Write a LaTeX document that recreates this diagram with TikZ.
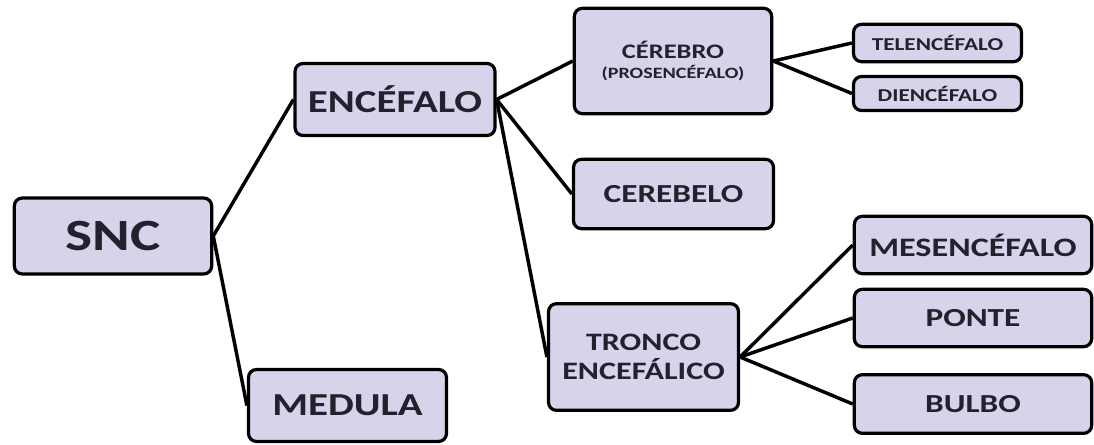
\documentclass[tikz,border=0pt]{standalone}
\usepackage{fontspec}
\newfontfamily\boxfont{Carlito}[FakeStretch=1.28]
\usepackage{tikz}
\definecolor{boxfill}{RGB}{214,212,235}
\definecolor{boxtext}{RGB}{34,34,46}
\tikzstyle{line} = [line width=2.6pt, black]
\newcommand\boxsize[2]{\boxfont\bfseries\fontsize{#1}{#2}\selectfont}

\begin{document}
\begin{tikzpicture}[x=0.75pt, y=-0.75pt, every node/.style={draw=black, line width=2.4pt, rounded corners=6pt, fill=boxfill, text=boxtext, inner sep=0pt, align=center}]
        \useasboundingbox (0,0) rectangle (1094,444);

        \node[minimum width=148pt, minimum height=57pt, font=\boxsize{33.5}{38}] (SNC) at (113,236) {SNC};
        \node[minimum width=150pt, minimum height=54pt, font=\boxsize{24}{27}] (ENC) at (395,99.5) {ENCÉFALO};
        \node[minimum width=148.5pt, minimum height=54pt, font=\boxsize{24}{27}] (MED) at (347.5,405.5) {MEDULA};
        \node[minimum width=148pt, minimum height=79pt, font=\boxsize{15.5}{15}] (CER) at (673,61) {CÉREBRO\\{\fontsize{11.8}{13}\selectfont(PROSENCÉFALO)}};
        \node[minimum width=126pt, minimum height=28pt, font=\boxsize{13.6}{15}] (TEL) at (937.5,43) {TELENCÉFALO};
        \node[minimum width=126pt, minimum height=25.5pt, font=\boxsize{13.6}{15}] (DIE) at (937.5,93.5) {DIENCÉFALO};
        \node[minimum width=150pt, minimum height=52pt, font=\boxsize{19.5}{22}] (CBL) at (673.5,194) {CEREBELO};
        \node[minimum width=142.5pt, minimum height=80pt, font=\boxsize{18.8}{22}] (TRO) at (643.5,357) {TRONCO\\ENCEFÁLICO};
        \node[minimum width=178pt, minimum height=43pt, font=\boxsize{20}{22}] (MES) at (973,245) {MESENCÉFALO};
        \node[minimum width=178pt, minimum height=43pt, font=\boxsize{19.5}{22}] (PON) at (973,318) {PONTE};
        \node[minimum width=178pt, minimum height=44pt, font=\boxsize{19.5}{22}] (BUL) at (973,404) {BULBO};

        % Edges - black
        \draw[line] (SNC.east) -- (ENC.west);
        \draw[line] (SNC.east) -- (MED.west);
        \draw[line] (ENC.east) -- (CER.west);
        \draw[line] (ENC.east) -- (CBL.west);
        \draw[line] (ENC.east) -- (TRO.west);
        \draw[line] (CER.east) -- (TEL.west);
        \draw[line] (CER.east) -- (DIE.west);
        \draw[line] (TRO.east) -- (MES.west);
        \draw[line] (TRO.east) -- (PON.west);
        \draw[line] (TRO.east) -- (BUL.west);
      \end{tikzpicture}
\end{document}
